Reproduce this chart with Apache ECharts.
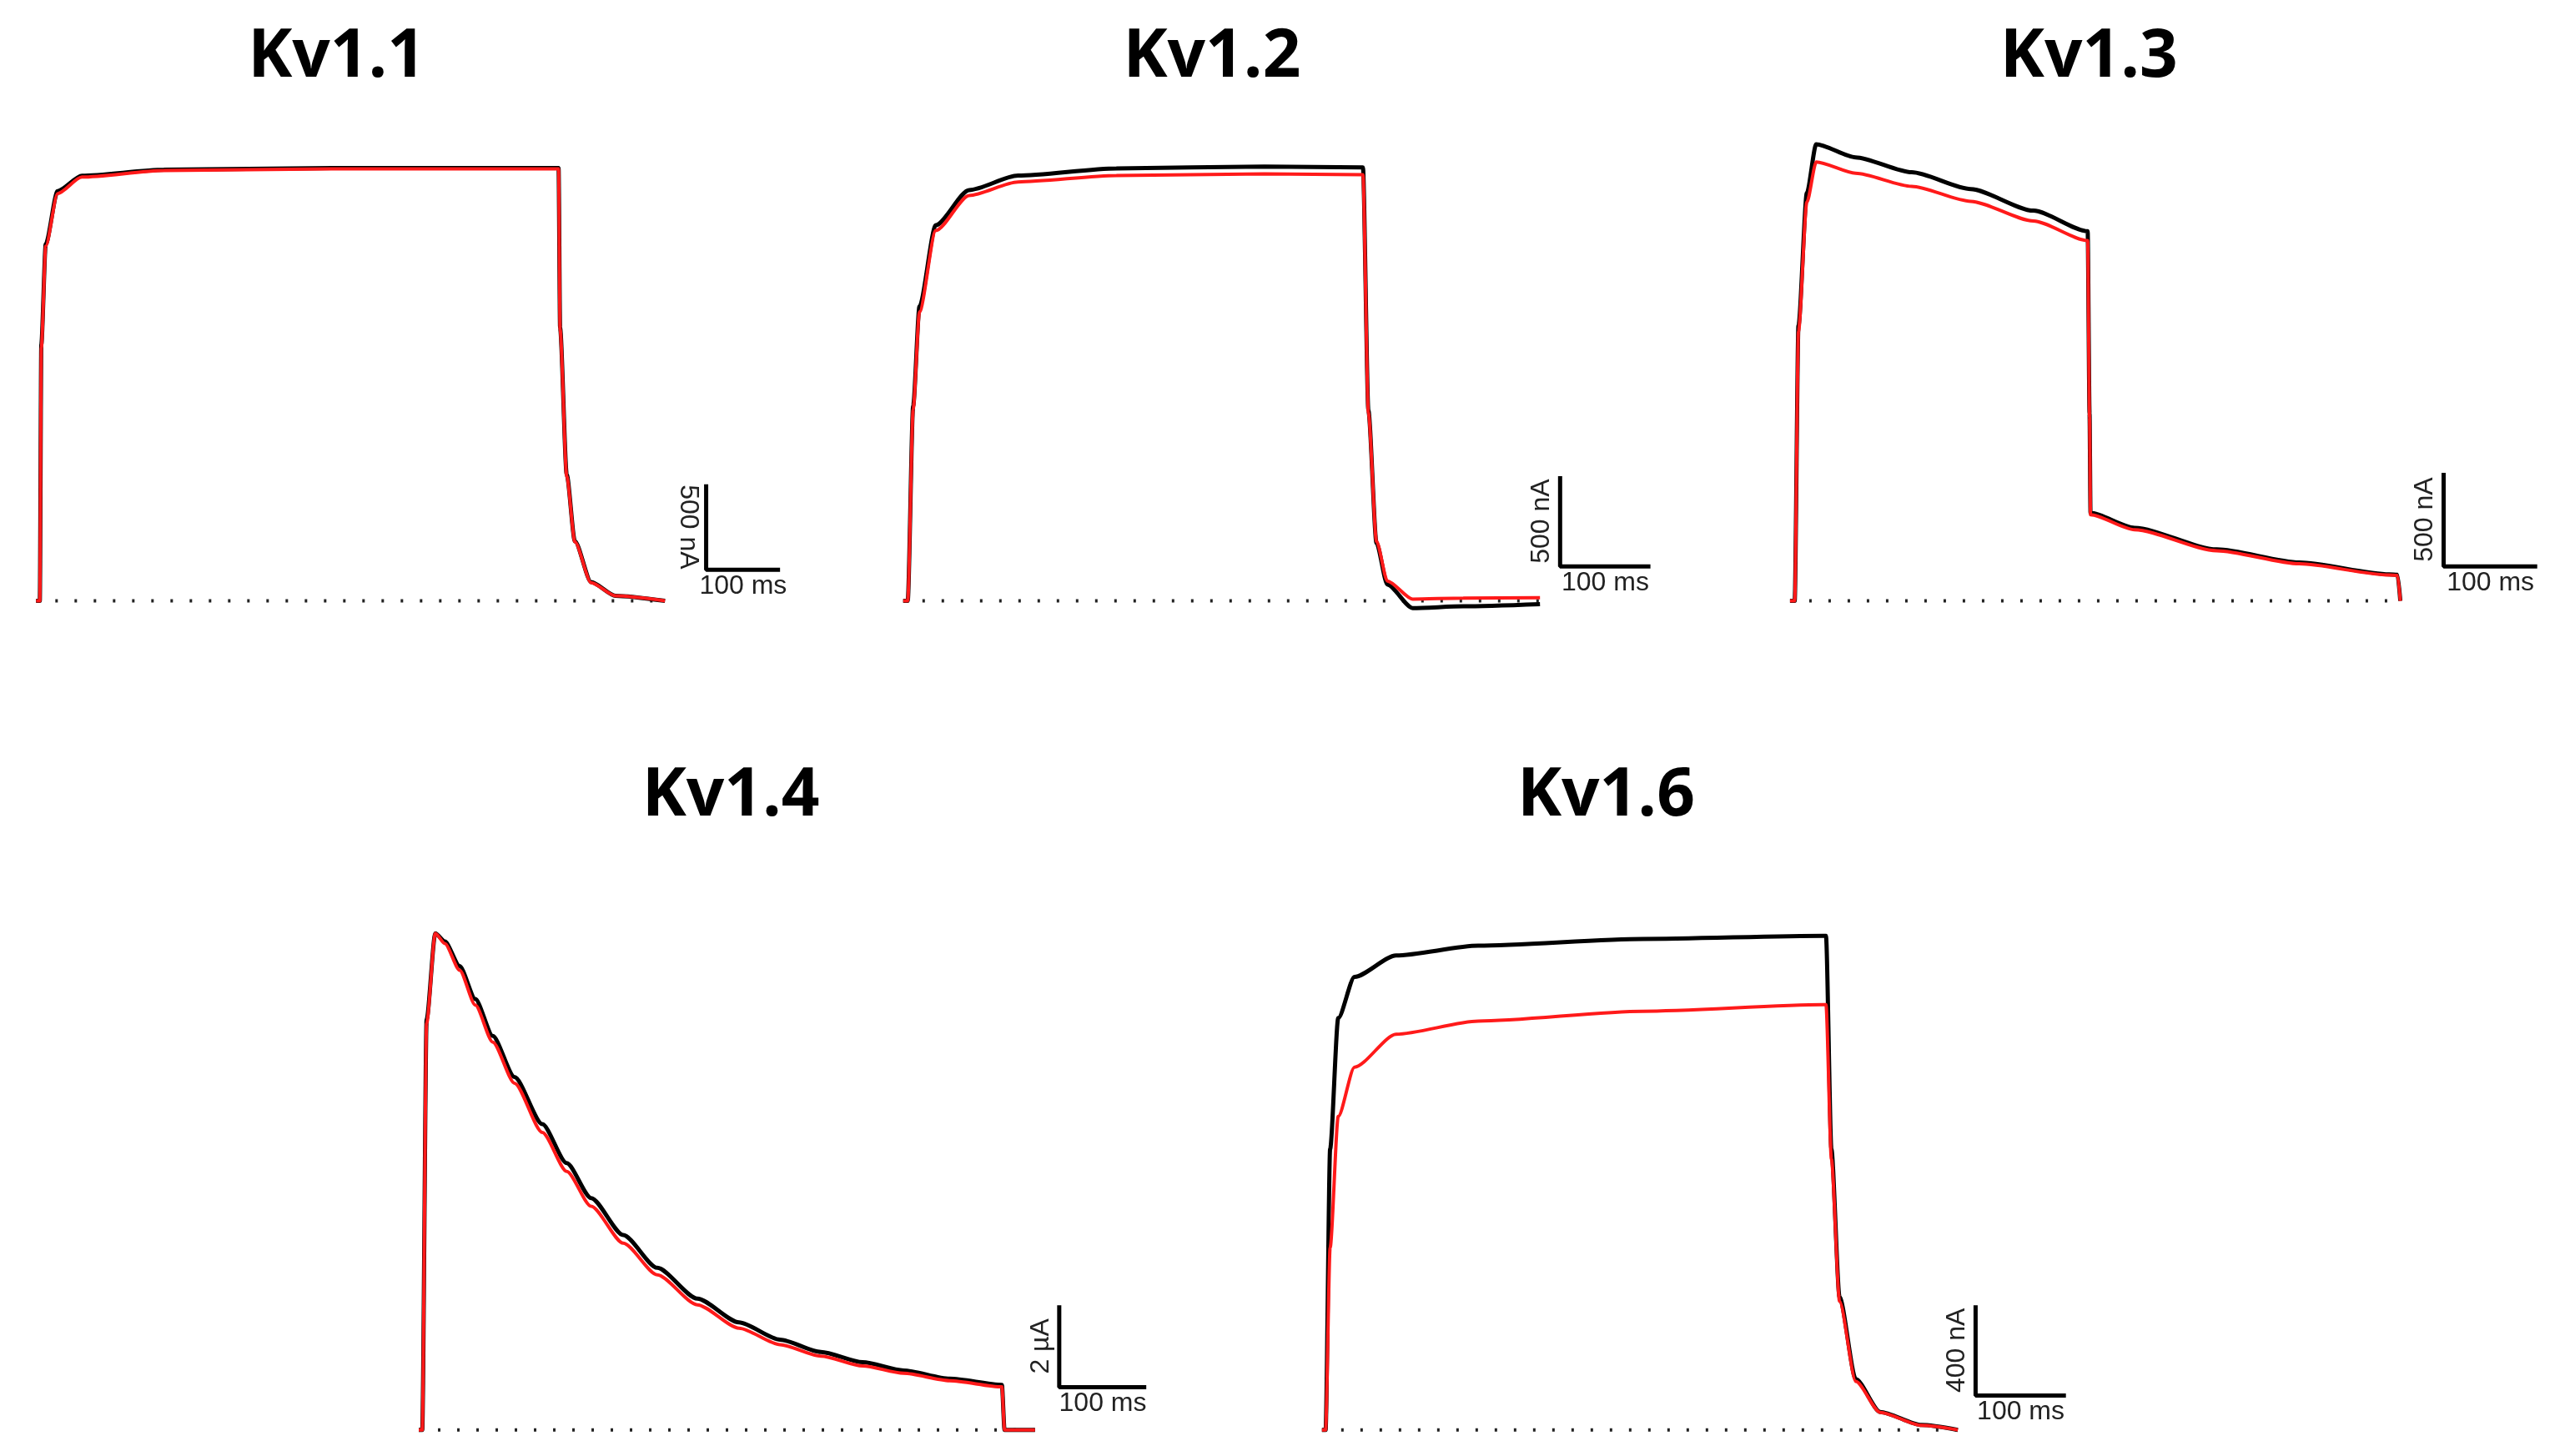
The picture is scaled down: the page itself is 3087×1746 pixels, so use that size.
<!DOCTYPE html>
<html><head><meta charset="utf-8">
<script src="https://cdn.jsdelivr.net/npm/echarts@6/dist/echarts.min.js"></script>
<style>html,body{margin:0;padding:0;background:#fff}#c{width:3087px;height:1746px}</style>
</head><body><div id="c"></div>
<script>
// ---- data (time ms, current in nA or µA) ----
const titles = ['Kv1.1','Kv1.2','Kv1.3','Kv1.4','Kv1.6'];
const scaleAmp = [500, 500, 500, 2, 400];
const scaleLabel = ['500 nA','500 nA','500 nA','2 µA','400 nA'];
const scaleTime = 100;
const kv11Black = [[0,0],[5,0],[7,1500],[13,2090],[29,2400],[62,2490],[173,2525],[400,2535],[707,2535],[709,1600],[718,740],[729,350],[751,110],[784,30],[851,0]];
const kv11Red   = [[0,0],[5,0],[7,1480],[13,2077],[29,2385],[62,2482],[173,2520],[400,2530],[707,2530],[709,1590],[718,730],[729,346],[751,106],[784,29],[851,0]];
const kv12Black = [[0,0],[5,0],[11,1080],[18,1630],[36,2080],[73,2275],[127,2355],[236,2395],[400,2405],[509,2400],[515,1055],[524,320],[536,90],[564,-40],[620,-30],[705,-18]];
const kv12Red   = [[0,0],[5,0],[11,1060],[18,1600],[36,2050],[73,2245],[127,2320],[236,2355],[400,2365],[509,2360],[515,1040],[524,330],[536,110],[564,10],[620,15],[705,18]];
const kv13Black = [[0,0],[5,0],[9,1470],[18,2180],[28,2440],[70,2370],[130,2290],[193,2200],[260,2085],[318,1975],[320,1000],[321,470],[368,390],[456,275],[544,205],[640,142],[649,140],[652,0]];
const kv13Red   = [[0,0],[5,0],[9,1440],[18,2130],[28,2345],[70,2285],[130,2215],[193,2135],[260,2030],[318,1925],[320,980],[321,460],[368,380],[456,268],[544,198],[640,138],[649,136],[652,0]];
const kv14Black = [[0,0],[4,0],[9,10.0],[19,12.1],[30,11.9],[47,11.3],[65,10.5],[85,9.6],[110,8.6],[142,7.45],[170,6.5],[198,5.65],[235,4.75],[274,3.95],[320,3.2],[368,2.62],[415,2.2],[462,1.9],[510,1.65],[557,1.45],[610,1.25],[670,1.1],[673,0],[708,0]];
const kv14Red   = [[0,0],[4,0],[9,9.9],[19,12.1],[30,11.85],[47,11.2],[65,10.35],[85,9.45],[110,8.45],[142,7.25],[170,6.3],[198,5.45],[235,4.55],[274,3.78],[320,3.05],[368,2.48],[415,2.08],[462,1.8],[510,1.56],[557,1.38],[610,1.2],[670,1.05],[673,0],[708,0]];
const kv16Black = [[0,0],[4,0],[9,1244],[18,1825],[36,2007],[82,2102],[173,2145],[355,2175],[555,2189],[558,2189],[564,1244],[573,589],[591,225],[618,80],[664,22],[704,0]];
const kv16Red   = [[0,0],[4,0],[9,807],[18,1389],[36,1607],[82,1753],[173,1811],[355,1855],[555,1884],[558,1884],[564,1200],[573,570],[591,215],[618,78],[664,20],[704,0]];
const blackSets = [kv11Black,kv12Black,kv13Black,kv14Black,kv16Black];
const redSets = [kv11Red,kv12Red,kv13Red,kv14Red,kv16Red];

// ---- layout (display px, scaled by k) ----
const k = 3087/1568;
const P = [
 {x0:22, pxMs:0.45, base:366, pxU:0.104, barX:430, barY:347, titleX:205, titleY:35, top:70, right:490, endT:851},
 {x0:550, pxMs:0.55, base:366, pxU:0.11, barX:950, barY:345, titleX:738, titleY:35, top:70, right:1015, endT:705},
 {x0:1090, pxMs:0.57, base:366, pxU:0.114, barX:1488, barY:345, titleX:1272, titleY:35, top:70, right:1555, endT:652},
 {x0:255, pxMs:0.53, base:871, pxU:25, barX:645, barY:845, titleX:445, titleY:485, top:540, right:708, endT:708},
 {x0:805, pxMs:0.55, base:871, pxU:0.1375, barX:1203, barY:850, titleX:978, titleY:485, top:540, right:1268, endT:704}
];
const grid=[],xAxis=[],yAxis=[],series=[];
P.forEach((p,i)=>{
  const bottom = p.base+15;
  grid.push({left:p.x0*k, top:p.top*k, width:(p.right-p.x0)*k, height:(bottom-p.top)*k});
  xAxis.push({gridIndex:i, type:'value', min:0, max:(p.right-p.x0)/p.pxMs, show:false});
  yAxis.push({gridIndex:i, type:'value', min:-(bottom-p.base)/p.pxU, max:(p.base-p.top)/p.pxU, show:false});
  series.push({type:'line', xAxisIndex:i, yAxisIndex:i, data:[[0,0],[p.endT,0]], symbol:'none', silent:true,
    lineStyle:{color:'#222', width:4, type:[3,20]}});
  series.push({type:'line', xAxisIndex:i, yAxisIndex:i, data:blackSets[i], symbol:'none', smooth:0.25, smoothMonotone:'x', lineStyle:{color:'#000', width:5}});
  series.push({type:'line', xAxisIndex:i, yAxisIndex:i, data:redSets[i], symbol:'none', smooth:0.25, smoothMonotone:'x', lineStyle:{color:'#ff1a1a', width:4}});
  const tc=(p.barX-p.x0)/p.pxMs, vc=(p.base-p.barY)/p.pxU;
  series.push({type:'line', xAxisIndex:i, yAxisIndex:i, data:[[tc,vc+scaleAmp[i]],[tc,vc],[tc+scaleTime,vc]], symbol:'none', lineStyle:{color:'#000', width:5}});
});
const chart = echarts.init(document.getElementById('c'));
chart.setOption({animation:false, grid, xAxis, yAxis, series});
const g=[];
P.forEach((p,i)=>{
  g.push({type:'text', x:p.titleX*k, y:p.titleY*k, style:{text:titles[i], font:'bold 80px "Open Sans", sans-serif', fill:'#000', align:'center', verticalAlign:'middle'}});
  const bx=p.barX*k, by=p.barY*k, bw=(scaleTime*p.pxMs)*k, bh=(scaleAmp[i]*p.pxU)*k;
  g.push({type:'text', x:bx+bw/2, y:by+4, style:{text:'100 ms', font:'32px "Liberation Sans", Arial, sans-serif', fill:'#222', align:'center', verticalAlign:'top'}});
  g.push({type:'text', x:bx-22, y:by-bh/2, rotation: i===0 ? -Math.PI/2 : Math.PI/2,
    style:{text:scaleLabel[i], font:'32px "Liberation Sans", Arial, sans-serif', fill:'#222', align:'center', verticalAlign:'middle'}});
});
chart.setOption({graphic:g});
</script></body></html>
